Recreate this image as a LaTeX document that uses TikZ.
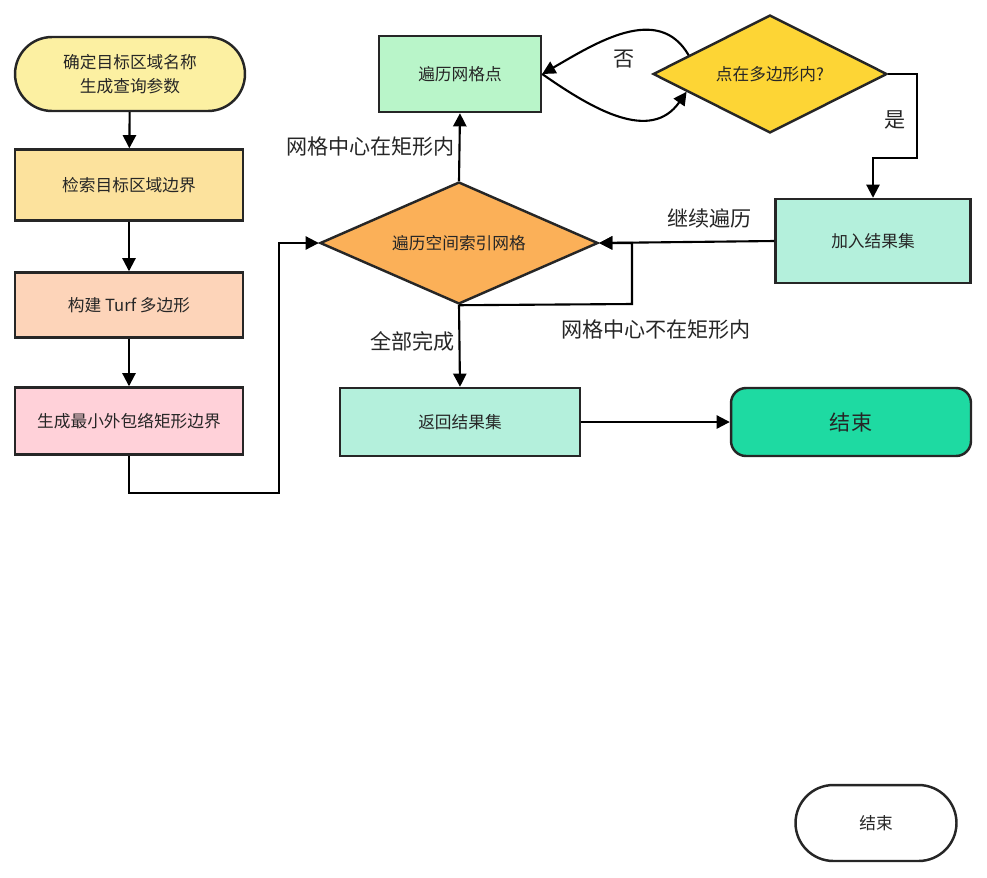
\documentclass[tikz,border=0pt]{standalone}
\usepackage{fontspec}
\setmainfont{Noto Sans CJK SC}
\usetikzlibrary{shapes.geometric}
\usetikzlibrary{arrows.meta}
\definecolor{cstart}{HTML}{FCF0A2}
\definecolor{cbound}{HTML}{FCE29D}
\definecolor{cturf}{HTML}{FDD4B9}
\definecolor{cbbox}{HTML}{FFD1D9}
\definecolor{cscan}{HTML}{FBB058}
\definecolor{cgrid}{HTML}{B9F5C9}
\definecolor{ccheck}{HTML}{FDD535}
\definecolor{cres}{HTML}{B4F0DC}
\definecolor{cdone}{HTML}{1EDAA2}
\tikzset{x=0.02cm, y=-0.02cm,
every node/.style={font=\fontsize{9.5}{14}\selectfont, text=black!85},
box/.style={
draw=black!85,
line width=1.4pt,
inner sep=0pt},
pill/.style={box, rounded corners=#1},
cond/.style={box, diamond, aspect=2.2},
lbl/.style={font=\fontsize{12}{14}\selectfont, inner sep=2pt},
arr/.style={
draw,
line width=1.2pt,
-{Triangle[length=7.5pt, width=7.5pt]}}}

\begin{document}
\begin{tikzpicture}
\useasboundingbox (0,0) rectangle (987,877);
\node[pill=0.74cm, fill=cstart, minimum width=4.6cm, minimum height=1.48cm, align=center] (start) at (130,74) {确定目标区域名称\\生成查询参数};
\node[box, fill=cbound, minimum width=4.56cm, minimum height=1.42cm] (bound) at (129,185) {检索目标区域边界};
\node[box, fill=cturf, minimum width=4.56cm, minimum height=1.3cm] (turf) at (129,305) {构建 Turf 多边形};
\node[box, fill=cbbox, minimum width=4.56cm, minimum height=1.34cm] (bbox) at (129,421) {生成最小外包络矩形边界};
\node[cond, fill=cscan, minimum width=5.56cm, minimum height=2.44cm] (scan) at (459,243) {遍历空间索引网格};
\node[box, fill=cgrid, minimum width=3.24cm, minimum height=1.52cm] (grid) at (460,74) {遍历网格点};
\node[cond, fill=ccheck, minimum width=4.68cm, minimum height=2.36cm] (check) at (770,74) {点在多边形内?};
\node[box, fill=cres, minimum width=3.9cm, minimum height=1.68cm] (add) at (873,241) {加入结果集};
\node[box, fill=cres, minimum width=4.8cm, minimum height=1.36cm] (ret) at (460,422) {返回结果集};
\node[pill=0.3cm, fill=cdone, minimum width=4.8cm, minimum height=1.36cm, font=\fontsize{12}{14}\selectfont] (done) at (851,422) {结束};
\node[pill=0.76cm, fill=white, minimum width=3.22cm, minimum height=1.52cm] (endb) at (876,823) {结束};
\coordinate (lk) at (279,493);
\coordinate (yes) at (917,158);
\coordinate (lp) at (632,304);
\draw[arr] (start) -- (bound);
\draw[arr] (bound) -- (turf);
\draw[arr] (turf) -- (bbox);
\draw[arr] (bbox.south) |- (lk) |- (scan.west);
\draw[arr] (scan.north) -- node[lbl, left=0pt, pos=0.5] {网格中心在矩形内} (grid.south);
\draw[arr] (check.167) to[out=120, in=30, looseness=1.05] node[lbl, below=7pt, pos=0.5] {否} (grid.east);
\draw[arr] (grid.east) to[out=-35, in=235, looseness=1.1] (check.192);
\draw[arr] (check.east) -| (yes) -| (add.north);
\node[lbl] at (895,120) {是};
\draw[arr] (add.west) -- node[lbl, above=5pt, pos=0.37] {继续遍历} (scan.east);
\draw[arr] (scan.south) -- (lp) |- (scan.east);
\node[lbl] at (656,330) {网格中心不在矩形内};
\draw[arr] (scan.south) -- node[lbl, left=0pt, pos=0.45] {全部完成} (ret.north);
\draw[arr] (ret.east) -- (done.west);
\end{tikzpicture}
\end{document}
